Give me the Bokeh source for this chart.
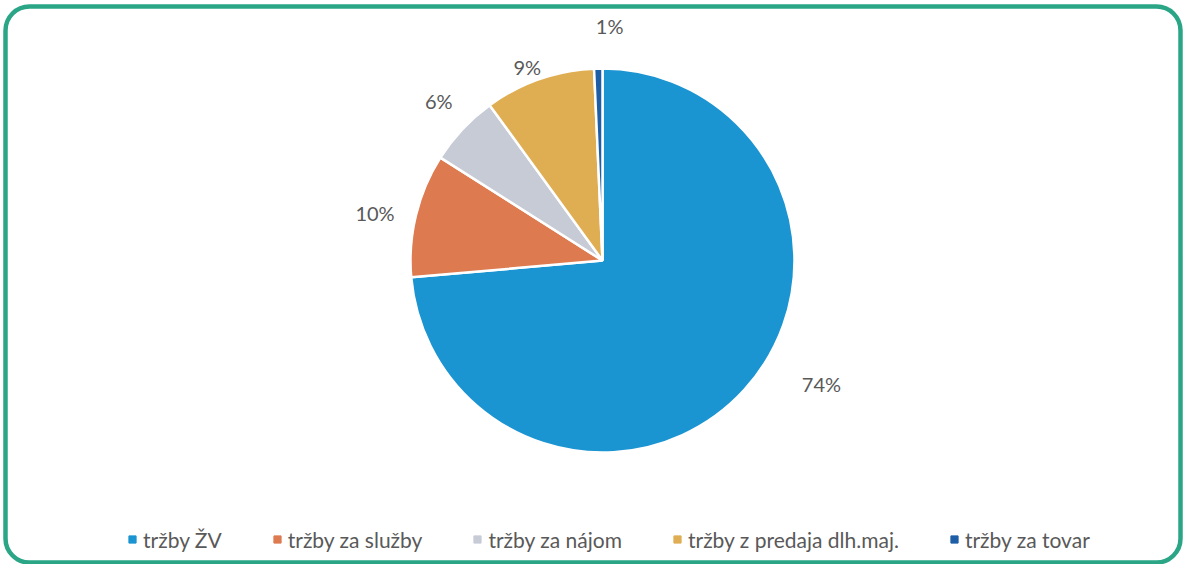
import numpy as np
from bokeh.plotting import figure
from bokeh.models import Range1d, BoxAnnotation, Legend, LegendItem, ColumnDataSource
from bokeh.core.properties import value
from bokeh.embed import file_html
from bokeh.resources import INLINE

# ---- data ----
categories = ["tržby ŽV", "tržby za služby", "tržby za nájom", "tržby z predaja dlh.maj.", "tržby za tovar"]
shares = [73.6, 10.4, 6.0, 9.3, 0.7]
colors = ["#1b94d2", "#dd7a4f", "#c6cbd6", "#dfae52", "#1e5ea6"]

# ---- layout / style ----
W, H = 1183, 564
cx, cy, R = 602, 304, 192
label_radius = [1.31, 1.21, 1.19, 1.08, 1.22]   # label distance as multiple of R
label_nudge_deg = [-13, -2, 1, -2, 3]           # best-fit style angular nudges
FONT = "Lato"
TXT = "#595959"

p = figure(width=W, height=H, output_backend="svg", toolbar_location=None,
           x_range=Range1d(0, W), y_range=Range1d(0, H), min_border=0)
p.axis.visible = False
p.grid.visible = False
p.outline_line_color = None
p.background_fill_color = "white"

vals = np.array(shares, dtype=float)
frac = vals / vals.sum()
cum = np.concatenate([[0.0], np.cumsum(frac)]) * 2 * np.pi  # clockwise from top
theta1 = cum[:-1]
theta2 = cum[1:]
start = np.pi / 2 - theta2
end = np.pi / 2 - theta1
mid = (theta1 + theta2) / 2 + np.radians(label_nudge_deg)
labels = [f"{round(v / vals.sum() * 100)}%" for v in vals]
lr = np.array(label_radius) * R
lx = cx + lr * np.sin(mid)
ly = cy + lr * np.cos(mid)

src = ColumnDataSource(dict(start=start, end=end, color=colors, cat=categories,
                            lx=lx, ly=ly, lab=labels))
p.wedge(x=cx, y=cy, radius=R, start_angle="start", end_angle="end",
        fill_color="color", line_color="white", line_width=2.5, source=src)
p.text(x="lx", y="ly", text="lab", source=src, text_align="center", text_baseline="middle",
       text_font=value(FONT), text_font_size="20px", text_color=TXT)

# legend via marker proxies
items = []
for c, col in zip(categories, colors):
    r = p.scatter(x=[np.nan], y=[np.nan], marker="square", size=8, fill_color=col, line_color=col)
    items.append(LegendItem(label=c, renderers=[r]))
legend = Legend(items=items, orientation="horizontal", location=(123, 12),
                glyph_width=18, glyph_height=26, label_height=26, label_standoff=2,
                spacing=46, padding=0, margin=0, border_line_color=None,
                background_fill_alpha=0, label_text_font=FONT, label_text_font_size="21px",
                label_text_color=TXT)
p.add_layout(legend, "center")

# rounded green frame
p.add_layout(BoxAnnotation(left=5, right=W - 3, bottom=2, top=H - 6, fill_alpha=0,
                           line_color="#2aa687", line_alpha=1.0, line_width=4.5,
                           border_radius=24))

open("out.html", "w").write(file_html(p, INLINE))
